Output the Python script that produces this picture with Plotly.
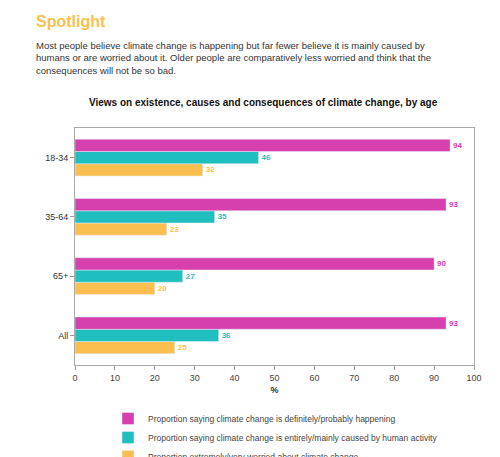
import plotly.graph_objects as go

ages = ["18-34", "35-64", "65+", "All"]
happening = [94, 93, 90, 93]
human_caused = [46, 35, 27, 36]
worried = [32, 23, 20, 25]

pink = "#d63fae"
teal = "#1fbfbf"
orange = "#fbbf4f"

# plotly stacks horizontal groups bottom-up, so reverse categories and traces
cats = ages[::-1]
fig = go.Figure()
for name, vals, col in [
    ("Proportion extremely/very worried about climate change", worried, orange),
    ("Proportion saying climate change is entirely/mainly caused by human activity", human_caused, teal),
    ("Proportion saying climate change is definitely/probably happening", happening, pink),
]:
    fig.add_trace(go.Bar(
        y=cats, x=vals[::-1], name=name, orientation="h", marker_color=col,
        text=["<b>%d</b>" % v for v in vals[::-1]], textposition="outside", cliponaxis=False,
        textfont=dict(color=col, size=8),
    ))

H = 457 - 120 - 100
W = 500 - 67 - 34


def px(x, y):
    return (x - 67) / W, (457 - 100 - y) / H


fig.update_layout(
    width=500, height=457, barmode="group", bargap=0.38, bargroupgap=0,
    margin=dict(l=67, r=34, t=120, b=100, autoexpand=False),
    paper_bgcolor="white", plot_bgcolor="white",
    font=dict(family="Liberation Sans, Arial", size=9, color="#333"),
    showlegend=True,
    legend=dict(traceorder="reversed", orientation="v", x=px(100, 0)[0], y=px(0, 396)[1],
                xanchor="left", yanchor="top", font=dict(size=8.5, color="#444"),
                itemwidth=30, tracegroupgap=0, bgcolor="rgba(0,0,0,0)"),
    xaxis=dict(range=[0, 100], dtick=10, showgrid=False, ticks="outside", automargin=False,
               ticklen=4, tickcolor="#999", showline=True, linecolor="#aaa",
               mirror=True, title=dict(text="<b>%</b>", font=dict(size=9), standoff=4),
               tickfont=dict(size=9, color="#444")),
    yaxis=dict(categoryorder="array", categoryarray=cats, showgrid=False, automargin=False,
               showline=True, linecolor="#aaa", mirror=True, ticks="outside",
               ticklen=4, tickcolor="#999", tickfont=dict(size=9, color="#333")),
)

for txt, x, y, sz, col in [
    ("<b>Spotlight</b>", 26, 3, 16, "#fbbf4f"),
    ("Most people believe climate change is happening but far fewer believe it is mainly caused by<br>"
     "humans or are worried about it. Older people are comparatively less worried and think that the<br>"
     "consequences will not be so bad.", 26, 30, 9.5, "#333"),
]:
    xx, yy = px(x, y)
    fig.add_annotation(text=txt, x=xx, y=yy, xref="paper", yref="paper", showarrow=False,
                       xanchor="left", yanchor="top", align="left",
                       font=dict(size=sz, color=col))
xx, yy = px(255, 87)
fig.add_annotation(text="<b>Views on existence, causes and consequences of climate change, by age</b>",
                   x=xx, y=yy, xref="paper", yref="paper", showarrow=False,
                   xanchor="center", yanchor="top", font=dict(size=10, color="#111"))

fig.write_html("out.html")
